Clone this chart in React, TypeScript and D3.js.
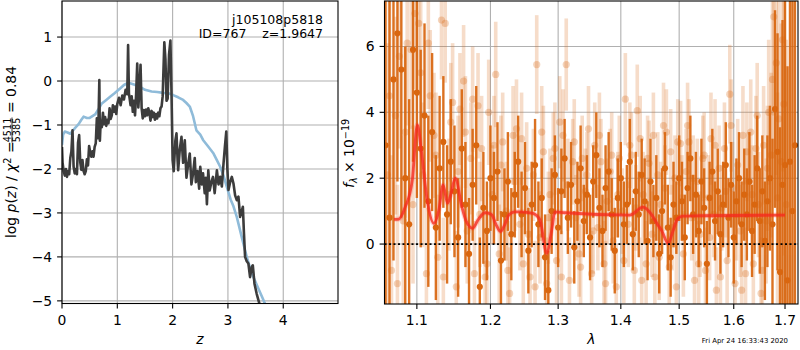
import React from "react";
import * as d3 from "d3";

// ---- data ----
const zTicks = [0, 1, 2, 3, 4];
const logpTicks = [-5, -4, -3, -2, -1, 0, 1];
const lamTicks = [1.1, 1.2, 1.3, 1.4, 1.5, 1.6, 1.7];
const fluxTicks = [0, 2, 4, 6];

// log p(z), dark line
const pzLine: [number, number][] = [
  [0.0, -1.5], [0.01, -1.85], [0.03, -2.05], [0.05, -2.15], [0.07, -2.0], [0.09, -2.18], [0.11, -2.05],
  [0.13, -2.12], [0.15, -1.75], [0.17, -1.6], [0.19, -1.12], [0.21, -1.95], [0.23, -2.1], [0.25, -2.0],
  [0.27, -2.12], [0.29, -1.4], [0.31, -1.23], [0.33, -1.85], [0.35, -2.02], [0.37, -1.8], [0.39, -2.05],
  [0.41, -2.12], [0.43, -2.05], [0.45, -1.78], [0.47, -1.92], [0.49, -1.48], [0.51, -1.62], [0.53, -1.72],
  [0.55, -1.6], [0.57, -1.72], [0.59, -1.5], [0.61, -1.42], [0.63, -0.85], [0.645, -1.3], [0.66, -0.9],
  [0.675, 0.02], [0.685, -1.36], [0.7, -0.9], [0.72, -1.05], [0.74, -0.72], [0.76, -0.98], [0.78, -0.82],
  [0.8, -1.02], [0.82, -0.88], [0.84, -0.96], [0.86, -0.62], [0.88, -0.86], [0.9, -0.78], [0.92, -0.55],
  [0.94, -0.7], [0.96, -0.58], [0.98, -0.75], [1.0, -0.52], [1.03, -0.38], [1.06, -0.55], [1.09, -0.33],
  [1.12, -0.42], [1.15, -0.2], [1.18, -0.3], [1.195, 0.82], [1.21, -0.28], [1.24, -0.55], [1.26, -0.35],
  [1.28, -0.7], [1.3, -0.45], [1.32, -0.78], [1.34, -0.3], [1.36, 0.4], [1.38, -0.6], [1.4, -0.2],
  [1.42, 0.37], [1.44, -0.62], [1.46, -0.85], [1.48, -0.66], [1.5, -0.8], [1.52, -0.65], [1.54, -0.78],
  [1.56, -0.62], [1.58, -0.72], [1.6, -0.9], [1.62, -0.68], [1.64, -0.82], [1.66, -0.72], [1.68, -0.88],
  [1.7, -0.75], [1.72, -0.85], [1.74, -0.72], [1.76, -0.8], [1.78, -0.62], [1.8, -0.58], [1.82, -0.35],
  [1.85, 0.88], [1.87, 0.5], [1.89, -0.45], [1.91, -0.4], [1.935, 0.6], [1.96, 0.92], [1.98, -0.3],
  [2.0, -1.8], [2.02, -2.05], [2.05, -1.35], [2.07, -1.19], [2.09, -1.8], [2.1, -2.03], [2.13, -1.55],
  [2.16, -1.27], [2.19, -1.86], [2.22, -1.35], [2.25, -2.2], [2.28, -1.9], [2.31, -1.65], [2.34, -2.35],
  [2.37, -2.1], [2.4, -1.75], [2.42, -2.3], [2.45, -2.05], [2.48, -2.45], [2.5, -1.95], [2.53, -2.35],
  [2.55, -2.1], [2.58, -2.55], [2.6, -2.2], [2.62, -2.8], [2.645, -2.03], [2.67, -2.49], [2.7, -2.3],
  [2.73, -2.18], [2.76, -2.55], [2.8, -2.03], [2.83, -2.35], [2.86, -2.18], [2.89, -2.4], [2.92, -1.88],
  [2.945, -1.5], [2.97, -1.15], [2.99, -2.0], [3.01, -2.48], [3.04, -2.3], [3.07, -2.18], [3.1, -2.33],
  [3.13, -2.6], [3.16, -2.71], [3.19, -2.63], [3.22, -3.09], [3.25, -2.95], [3.27, -2.86], [3.29, -3.47],
  [3.31, -4.0], [3.34, -4.1], [3.37, -4.15], [3.4, -4.46], [3.43, -4.23], [3.45, -4.19], [3.48, -4.61],
  [3.52, -4.84], [3.57, -5.07], [3.62, -5.25],
];

// prior, light blue line
const priorLine: [number, number][] = [
  [0.0, -1.45], [0.02, -1.22], [0.05, -1.15], [0.1, -1.17], [0.15, -1.2], [0.2, -1.12], [0.25, -1.05],
  [0.3, -0.98], [0.35, -0.88], [0.39, -0.81], [0.45, -0.84], [0.5, -0.84], [0.55, -0.8], [0.6, -0.76],
  [0.65, -0.66], [0.72, -0.51], [0.8, -0.43], [0.87, -0.36], [0.95, -0.28], [1.05, -0.17], [1.12, -0.09],
  [1.2, -0.04], [1.23, -0.05], [1.3, -0.08], [1.41, -0.13], [1.5, -0.2], [1.62, -0.24], [1.72, -0.25],
  [1.83, -0.27], [1.92, -0.28], [2.01, -0.32], [2.1, -0.37], [2.19, -0.43], [2.25, -0.5], [2.31, -0.58],
  [2.37, -0.8], [2.43, -1.12], [2.5, -1.22], [2.55, -1.34], [2.65, -1.5], [2.74, -1.65], [2.8, -1.8],
  [2.86, -1.95], [2.92, -2.15], [2.98, -2.41], [3.05, -2.7], [3.1, -2.85], [3.16, -3.09], [3.25, -3.55],
  [3.34, -4.0], [3.4, -4.25], [3.46, -4.46], [3.55, -4.72], [3.62, -4.92], [3.7, -5.15],
];

// spectrum points [lambda, flux, err], faint set
const faintPts: [number, number, number][] = [
  [1.0625, 2.1, 4.0], [1.0675, -0.8, 3.5], [1.0725, 3.9, 3.0], [1.0775, 5.7, 2.8], [1.0825, 0.7, 2.6],
  [1.0875, 6.1, 2.5], [1.0925, 5.9, 2.4], [1.0975, 7.0, 2.3], [1.1025, 6.7, 2.2], [1.1075, 2.1, 2.2],
  [1.1125, -0.9, 2.0], [1.1175, 4.5, 2.0], [1.1225, 3.3, 1.9], [1.1275, -0.4, 1.9], [1.1325, 6.8, 1.8],
  [1.1375, 6.7, 1.8], [1.1425, 1.5, 1.7], [1.1475, 4.3, 1.8], [1.1525, -1.3, 1.7], [1.1575, 4.1, 1.7],
  [1.1625, 4.95, 1.7], [1.1675, 0.4, 1.6], [1.1725, 2.6, 1.7], [1.1775, -0.9, 1.6], [1.1825, 4.2, 1.6],
  [1.1875, 2.9, 1.6], [1.1925, -1.0, 1.5], [1.1975, 4.0, 1.6], [1.2025, 1.5, 1.5], [1.2075, 5.15, 1.6],
  [1.2125, -0.3, 1.5], [1.2175, 3.1, 1.5], [1.2225, 1.0, 1.5], [1.2275, -1.5, 1.4], [1.2325, 3.3, 1.5],
  [1.2375, 3.5, 1.5], [1.2425, 0.6, 1.4], [1.2475, -0.6, 1.4], [1.2525, 2.3, 1.4], [1.2575, -1.0, 1.4],
  [1.2625, 2.1, 1.4], [1.2675, 5.45, 1.5], [1.2725, 0.2, 1.4], [1.2775, 2.8, 1.4], [1.2825, -1.2, 1.4],
  [1.2875, 1.5, 1.4], [1.2925, 2.6, 1.4], [1.2975, -0.5, 1.3], [1.3025, 3.7, 1.4], [1.3075, 3.3, 1.4],
  [1.3125, 5.45, 1.4], [1.3175, -1.1, 1.3], [1.3225, 2.5, 1.3], [1.3275, 0.8, 1.3], [1.3325, -0.3, 1.3],
  [1.3375, 2.6, 1.3], [1.3425, 1.6, 1.3], [1.3475, 3.5, 1.3], [1.3525, -0.9, 1.3], [1.3575, 3.0, 1.3],
  [1.3625, 0.5, 1.3], [1.3675, 2.5, 1.3], [1.3725, -0.6, 1.3], [1.3775, 1.3, 1.3], [1.3825, 2.2, 1.3],
  [1.3875, 0.1, 1.3], [1.3925, -1.3, 1.3], [1.3975, 2.6, 1.3], [1.4025, 1.0, 1.3], [1.4075, 4.4, 1.4],
  [1.4125, 0.6, 1.3], [1.4175, 2.7, 1.3], [1.4225, -0.8, 1.3], [1.4275, 4.05, 1.4], [1.4325, 3.2, 1.3],
  [1.4375, 1.5, 1.3], [1.4425, -0.6, 1.3], [1.4475, 2.45, 1.3], [1.4525, 0.3, 1.3], [1.4575, -1.0, 1.3],
  [1.4625, 2.1, 1.3], [1.4675, 1.2, 1.3], [1.4725, 3.6, 1.3], [1.4775, 3.4, 1.3], [1.4825, -0.7, 1.3],
  [1.4875, 0.5, 1.3], [1.4925, 2.0, 1.3], [1.4975, 3.1, 1.3], [1.5025, 3.05, 1.3], [1.5075, -0.3, 1.3],
  [1.5125, 2.2, 1.3], [1.5175, 3.1, 1.3], [1.5225, 0.8, 1.3], [1.5275, -1.1, 1.3], [1.5325, 1.9, 1.3],
  [1.5375, 0.3, 1.3], [1.5425, 2.6, 1.3], [1.5475, -0.8, 1.3], [1.5525, 1.4, 1.3], [1.5575, 3.2, 1.4],
  [1.5625, 0.9, 1.3], [1.5675, -1.4, 1.3], [1.5725, 2.3, 1.3], [1.5775, 1.1, 1.3], [1.5825, 2.9, 1.4],
  [1.5875, -0.5, 1.3], [1.5925, 4.55, 1.5], [1.5975, 1.7, 1.4], [1.6025, -1.2, 1.4], [1.6075, 2.4, 1.4],
  [1.6125, 0.4, 1.4], [1.6175, 3.3, 1.5], [1.6225, -0.9, 1.4], [1.6275, 1.9, 1.5], [1.6325, 3.4, 1.6],
  [1.6375, -0.6, 1.5], [1.6425, 2.9, 1.6], [1.6475, 1.2, 1.6], [1.6525, -1.5, 1.7], [1.6575, 3.0, 1.8],
  [1.6625, 0.7, 1.9], [1.6675, 4.0, 2.2], [1.6725, 2.7, 2.5], [1.6775, 6.9, 3.0], [1.6825, 5.5, 3.4],
  [1.6875, 3.8, 3.8], [1.6925, 2.5, 4.2], [1.6975, 4.25, 4.6], [1.7025, 1.2, 5.0],
];

// second faint exposure
const faintPts2: [number, number, number][] = [
  [1.065, 4.5, 3.8], [1.075, -1.2, 3.0], [1.085, 3.4, 2.6], [1.095, 1.2, 2.4], [1.105, 5.2, 2.2],
  [1.115, 6.1, 2.0], [1.125, 2.7, 1.9], [1.135, -1.0, 1.8], [1.145, 3.7, 1.8], [1.155, 2.2, 1.7],
  [1.165, 3.4, 1.7], [1.175, 4.4, 1.6], [1.185, 0.9, 1.6], [1.195, -0.6, 1.6], [1.205, 3.0, 1.5],
  [1.215, 2.4, 1.5], [1.225, -0.8, 1.5], [1.235, 1.9, 1.5], [1.245, 3.2, 1.4], [1.255, 0.3, 1.4],
  [1.265, -1.3, 1.4], [1.275, 3.4, 1.4], [1.285, 0.8, 1.4], [1.295, 2.9, 1.4], [1.305, -1.0, 1.4],
  [1.315, 1.8, 1.4], [1.325, 3.1, 1.3], [1.335, -0.7, 1.3], [1.345, 2.1, 1.3], [1.355, 0.4, 1.3],
  [1.365, 3.3, 1.3], [1.375, -1.2, 1.3], [1.385, 2.7, 1.3], [1.395, 1.5, 1.3], [1.405, -0.5, 1.3],
  [1.415, 3.0, 1.3], [1.425, 1.1, 1.3], [1.435, -1.1, 1.3], [1.445, 2.6, 1.3], [1.455, 3.3, 1.3],
  [1.465, -0.4, 1.3], [1.475, 1.7, 1.3], [1.485, 2.8, 1.3], [1.495, -1.3, 1.3], [1.505, 1.4, 1.3],
  [1.515, 3.6, 1.3], [1.525, 2.0, 1.3], [1.535, -0.6, 1.3], [1.545, 2.7, 1.3], [1.555, 0.2, 1.3],
  [1.565, 3.0, 1.4], [1.575, -1.0, 1.3], [1.585, 1.6, 1.4], [1.595, 3.6, 1.4], [1.605, 0.9, 1.4],
  [1.615, -1.4, 1.4], [1.625, 2.8, 1.5], [1.635, 1.5, 1.5], [1.645, 3.9, 1.6], [1.655, -0.8, 1.7],
  [1.665, 2.3, 1.9], [1.675, 5.0, 2.4], [1.685, 1.4, 3.2], [1.695, 6.2, 4.0],
];

// spectrum points [lambda, flux, err], strong set
const strongPts: [number, number, number][] = [
  [1.06, 3.0, 6.0], [1.065, 0.8, 7.0], [1.07, 5.0, 5.5], [1.075, 6.4, 4.5], [1.08, 5.3, 4.5],
  [1.085, 2.0, 4.0], [1.09, 0.6, 3.8], [1.095, 5.9, 3.4], [1.1, 4.6, 3.2], [1.105, 2.9, 3.0],
  [1.11, 3.9, 2.8], [1.115, 1.3, 2.6], [1.12, 3.4, 2.4], [1.125, 0.5, 2.2], [1.13, 2.3, 2.2],
  [1.135, 3.1, 2.0], [1.14, 0.9, 2.1], [1.145, 2.5, 1.9], [1.15, 1.6, 2.0], [1.155, 0.2, 1.8],
  [1.16, 2.9, 1.8], [1.165, 1.2, 1.9], [1.17, -0.3, 1.7], [1.175, 1.8, 1.7], [1.18, 3.0, 1.8],
  [1.185, -1.3, 1.5], [1.19, 1.1, 1.7], [1.195, 0.4, 1.5], [1.2, 2.0, 1.6], [1.205, 1.4, 1.4],
  [1.21, 2.2, 1.5], [1.215, -0.5, 1.5], [1.22, 0.9, 1.4], [1.225, 1.9, 1.5], [1.23, 0.3, 1.4],
  [1.235, 1.5, 1.3], [1.24, 2.5, 1.4], [1.245, 0.9, 1.3], [1.25, 1.7, 1.4], [1.255, -0.2, 1.3],
  [1.26, 1.2, 1.3], [1.265, 2.4, 1.4], [1.27, 0.6, 1.3], [1.275, 1.4, 1.2], [1.28, -0.4, 1.3],
  [1.285, -1.4, 1.2], [1.29, 1.0, 1.3], [1.295, 2.1, 1.2], [1.3, 0.5, 1.2], [1.305, 1.6, 1.3],
  [1.31, 2.6, 1.2], [1.315, 0.8, 1.1], [1.32, 1.8, 1.3], [1.325, -0.1, 1.1], [1.33, 1.3, 1.2],
  [1.335, 2.3, 1.3], [1.34, 0.7, 1.1], [1.345, 1.5, 1.2], [1.35, 0.2, 1.3], [1.355, 1.9, 1.1],
  [1.36, 2.7, 1.3], [1.365, 1.1, 1.2], [1.37, 0.4, 1.1], [1.375, 1.7, 1.3], [1.38, 2.2, 1.2],
  [1.385, 0.9, 1.1], [1.39, -0.2, 1.3], [1.395, 1.4, 1.2], [1.4, 2.0, 1.1], [1.405, 0.6, 1.3],
  [1.41, 1.2, 1.2], [1.415, 2.5, 1.3], [1.42, 0.3, 1.1], [1.425, 1.6, 1.2], [1.43, 0.9, 1.3],
  [1.435, 2.1, 1.1], [1.44, 1.3, 1.3], [1.445, 0.1, 1.2], [1.45, 1.9, 1.3], [1.455, 0.7, 1.1],
  [1.46, 1.4, 1.3], [1.465, -0.3, 1.2], [1.47, 1.0, 1.3], [1.475, 2.3, 1.1], [1.48, 0.5, 1.3],
  [1.485, -0.4, 1.2], [1.49, 1.2, 1.3], [1.495, 0.8, 1.1], [1.5, 2.0, 1.3], [1.505, 1.3, 1.2],
  [1.51, 0.2, 1.3], [1.515, 1.7, 1.1], [1.52, 2.6, 1.3], [1.525, 0.9, 1.2], [1.53, 1.5, 1.3],
  [1.535, 0.4, 1.1], [1.54, 1.9, 1.3], [1.545, 1.1, 1.2], [1.55, -0.6, 1.3], [1.555, 1.4, 1.1],
  [1.56, 2.2, 1.3], [1.565, 0.7, 1.2], [1.57, 1.6, 1.3], [1.575, 0.3, 1.2], [1.58, 1.2, 1.3],
  [1.585, 2.4, 1.3], [1.59, 0.8, 1.2], [1.595, 1.8, 1.3], [1.6, 0.2, 1.4], [1.605, 1.3, 1.3],
  [1.61, 2.0, 1.4], [1.615, 0.6, 1.3], [1.62, 1.5, 1.4], [1.625, 0.9, 1.4], [1.63, 1.9, 1.5],
  [1.635, 0.4, 1.4], [1.64, 1.2, 1.5], [1.645, 2.3, 1.6], [1.65, 0.7, 1.6], [1.655, 1.6, 1.7],
  [1.66, 0.1, 1.8], [1.665, 1.3, 2.0], [1.67, 2.0, 2.2], [1.675, 0.6, 2.6], [1.68, 4.1, 3.0],
  [1.685, 2.8, 3.6], [1.69, -0.85, 4.4], [1.695, 1.8, 5.0], [1.7, 2.4, 6.0], [1.705, -1.1, 6.5],
  [1.71, 2.5, 7.0], [1.715, 1.0, 8.0], [1.72, 3.0, 8.0],
];

// best-fit model, red line
const modelLine: [number, number][] = [
  [1.0707, 0.75], [1.077, 0.76], [1.0846, 1.1], [1.0941, 1.95], [1.1006, 3.62], [1.1057, 2.86],
  [1.1135, 1.34], [1.1224, 0.63], [1.129, 1.03], [1.1347, 1.8], [1.1406, 1.24], [1.145, 1.5],
  [1.1511, 2.0], [1.16, 1.14], [1.166, 0.7], [1.1749, 0.48], [1.183, 0.75], [1.1924, 0.95],
  [1.2014, 0.9], [1.2078, 0.6], [1.2143, 0.38], [1.2207, 0.6], [1.2263, 0.88], [1.2348, 0.98],
  [1.2426, 0.98], [1.2619, 0.93], [1.2724, 0.73], [1.2824, -0.28], [1.2902, 0.43], [1.2951, 0.98],
  [1.3105, 0.95], [1.4151, 0.88], [1.4371, 1.12], [1.4524, 0.88], [1.4627, 0.58], [1.4696, 0.4],
  [1.4806, 0.02], [1.489, 0.4], [1.4977, 0.78], [1.5066, 0.85], [1.5372, 0.86], [1.7, 0.88],
];

const FONT = "DejaVu Sans";
const TICK_FS = 13.9;
const GRID = "#b0b0b0";
const ORANGE = "#d9660f";
const minus = (v: number) => (v < 0 ? "\u2212" + Math.abs(v) : String(v));

export default function App() {
  // left panel
  const L = { x0: 62, x1: 338, y0: 1, y1: 303.5 };
  const zx = d3.scaleLinear().domain([0, 4.99]).range([L.x0, L.x1]);
  const zy = d3.scaleLinear().domain([-5.06, 1.82]).range([L.y1, L.y0]);
  const zLine = d3.line<[number, number]>().x(d => zx(d[0])).y(d => zy(d[1]));

  // right panel
  const R = { x0: 384.5, x1: 798, y0: 1, y1: 304 };
  const lx = d3.scaleLog().domain([1.0587, 1.7263]).range([R.x0, R.x1]);
  const fy = d3.scaleLinear().domain([-1.82, 7.38]).range([R.y1, R.y0]);
  const mLine = d3.line<[number, number]>().x(d => lx(d[0])).y(d => fy(d[1])).curve(d3.curveMonotoneX);

  const faintAll = faintPts.concat(faintPts2);

  return (
    <svg width={800} height={350} style={{ position: "absolute", left: 0, top: 0 }} fontFamily={FONT}>
      <defs>
        <clipPath id="clipL"><rect x={L.x0} y={L.y0} width={L.x1 - L.x0} height={L.y1 - L.y0} /></clipPath>
        <clipPath id="clipR"><rect x={R.x0} y={R.y0} width={R.x1 - R.x0} height={R.y1 - R.y0} /></clipPath>
      </defs>
      <rect width={800} height={350} fill="#fff" />

      {/* ---------- left panel ---------- */}
      <g>
        {zTicks.map(t => (
          <line key={"gx" + t} x1={zx(t)} x2={zx(t)} y1={L.y0} y2={L.y1} stroke={GRID} strokeWidth={1.1} />
        ))}
        {logpTicks.map(t => (
          <line key={"gy" + t} x1={L.x0} x2={L.x1} y1={zy(t)} y2={zy(t)} stroke={GRID} strokeWidth={1.1} />
        ))}
        <g clipPath="url(#clipL)">
          <path d={zLine(priorLine) || ""} fill="none" stroke="#8fbbd9" strokeWidth={2.6} strokeLinejoin="round" />
          <path d={zLine(pzLine) || ""} fill="none" stroke="#3c3c3c" strokeWidth={2.6} strokeLinejoin="round" />
        </g>
        <rect x={L.x0} y={L.y0} width={L.x1 - L.x0} height={L.y1 - L.y0} fill="none" stroke="#000" strokeWidth={1.1} />
        {zTicks.map(t => (
          <g key={"tx" + t}>
            <line x1={zx(t)} x2={zx(t)} y1={L.y1} y2={L.y1 + 4.9} stroke="#000" strokeWidth={1.1} />
            <text x={zx(t)} y={L.y1 + 21.5} fontSize={TICK_FS} textAnchor="middle">{minus(t)}</text>
          </g>
        ))}
        {logpTicks.map(t => (
          <g key={"ty" + t}>
            <line x1={L.x0 - 4.9} x2={L.x0} y1={zy(t)} y2={zy(t)} stroke="#000" strokeWidth={1.1} />
            <text x={L.x0 - 9.8} y={zy(t) + 5} fontSize={TICK_FS} textAnchor="end">{minus(t)}</text>
          </g>
        ))}
        <text x={(L.x0 + L.x1) / 2} y={344} fontSize={TICK_FS} textAnchor="middle" fontStyle="italic">z</text>
        <g transform="translate(16,153) rotate(-90)" fontSize={TICK_FS}>
          <text x={-85} y={0}>
            log <tspan fontStyle="italic">p</tspan>(<tspan fontStyle="italic">z</tspan>) / <tspan fontStyle="italic">χ</tspan>
            <tspan fontSize={9.7} dy={-5.5}>2</tspan>
            <tspan dy={5.5}> =</tspan>
          </text>
          <text x={23} y={-5.5} fontSize={9.7} textAnchor="middle">4511</text>
          <line x1={10.5} x2={35.5} y1={-4} y2={-4} stroke="#000" strokeWidth={0.8} />
          <text x={23} y={3.6} fontSize={9.7} textAnchor="middle">5385</text>
          <text x={40} y={0}>= 0.84</text>
        </g>
        <text x={323} y={24} fontSize={12.5} textAnchor="end">j105108p5818</text>
        <text x={323} y={38} fontSize={12.5} textAnchor="end" style={{ whiteSpace: "pre" }}>{"ID=767    z=1.9647"}</text>
      </g>

      {/* ---------- right panel ---------- */}
      <g>
        {lamTicks.map(t => (
          <line key={"gx" + t} x1={lx(t)} x2={lx(t)} y1={R.y0} y2={R.y1} stroke={GRID} strokeWidth={1.1} />
        ))}
        {fluxTicks.map(t => (
          <line key={"gy" + t} x1={R.x0} x2={R.x1} y1={fy(t)} y2={fy(t)} stroke={GRID} strokeWidth={1.1} />
        ))}
        <g clipPath="url(#clipR)">
          {faintAll.map((p, i) => (
            <line key={"fe" + i} x1={lx(p[0])} x2={lx(p[0])} y1={fy(p[1] - p[2])} y2={fy(p[1] + p[2])}
              stroke={ORANGE} strokeWidth={3.6} opacity={0.22} />
          ))}
          {faintAll.map((p, i) => (
            <circle key={"fm" + i} cx={lx(p[0])} cy={fy(p[1])} r={3.6} fill={ORANGE} opacity={0.28} />
          ))}
          {strongPts.map((p, i) => (
            <line key={"se" + i} x1={lx(p[0])} x2={lx(p[0])} y1={fy(p[1] - p[2])} y2={fy(p[1] + p[2])}
              stroke={ORANGE} strokeWidth={2.4} opacity={0.92} />
          ))}
          {strongPts.map((p, i) => (
            <circle key={"sm" + i} cx={lx(p[0])} cy={fy(p[1])} r={3.1} fill={ORANGE} />
          ))}
          <path d={mLine(modelLine) || ""} fill="none" stroke="#ff3020" strokeWidth={5} opacity={0.2} strokeLinejoin="round" />
          <path d={mLine(modelLine) || ""} fill="none" stroke="#f52a1e" strokeWidth={2.8} opacity={0.78} strokeLinejoin="round" />
          <line x1={R.x0} x2={R.x1} y1={fy(0)} y2={fy(0)} stroke="#000" strokeWidth={1.8} strokeDasharray="2,2.5" />
        </g>
        <rect x={R.x0} y={R.y0} width={R.x1 - R.x0} height={R.y1 - R.y0} fill="none" stroke="#000" strokeWidth={1.1} />
        {lamTicks.map(t => (
          <g key={"tx" + t}>
            <line x1={lx(t)} x2={lx(t)} y1={R.y1} y2={R.y1 + 4.9} stroke="#000" strokeWidth={1.1} />
            <text x={lx(t)} y={R.y1 + 21} fontSize={TICK_FS} textAnchor="middle">{t.toFixed(1)}</text>
          </g>
        ))}
        {fluxTicks.map(t => (
          <g key={"ty" + t}>
            <line x1={R.x0 - 4.9} x2={R.x0} y1={fy(t)} y2={fy(t)} stroke="#000" strokeWidth={1.1} />
            <text x={R.x0 - 9.8} y={fy(t) + 5} fontSize={TICK_FS} textAnchor="end">{minus(t)}</text>
          </g>
        ))}
        <text x={(R.x0 + R.x1) / 2} y={344} fontSize={TICK_FS} textAnchor="middle" fontStyle="italic">λ</text>
        <g transform="translate(354,188) rotate(-90)" fontSize={TICK_FS}>
          <text x={0} y={0}>
            <tspan fontStyle="italic">f</tspan>
            <tspan fontSize={9.7} dy={3} fontStyle="italic">λ</tspan>
            <tspan dy={-3}> × 10</tspan>
            <tspan fontSize={9.7} dy={-5.5}>−19</tspan>
          </text>
        </g>
        <text x={788} y={343} fontSize={6.9} textAnchor="end">Fri Apr 24 16:33:43 2020</text>
      </g>
    </svg>
  );
}
